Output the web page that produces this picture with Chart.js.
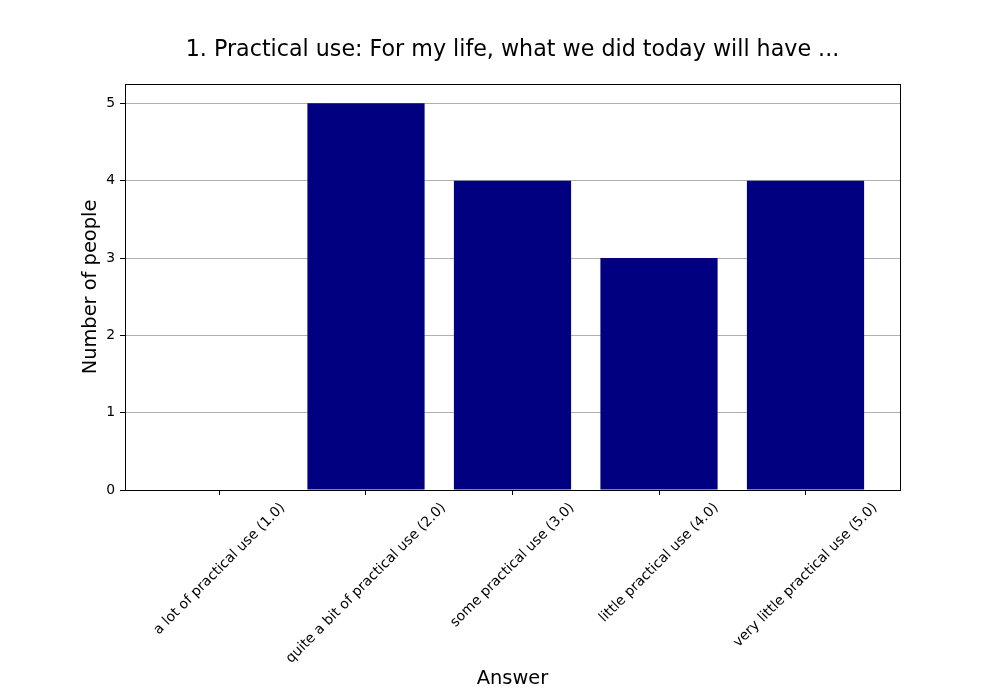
<!DOCTYPE html>
<html>
<head>
<meta charset="utf-8">
<script src="https://cdn.jsdelivr.net/npm/chart.js@4"></script>
<style>
  html, body { margin: 0; padding: 0; background: #fff; }
  #wrap { width: 1000px; height: 700px; }
</style>
</head>
<body>
<div id="wrap"><canvas id="myChart" width="1000" height="700"></canvas></div>
<script>
// chart data
const titleText = '1. Practical use: For my life, what we did today will have ...';
const answers = [
    'a lot of practical use (1.0)',
    'quite a bit of practical use (2.0)',
    'some practical use (3.0)',
    'little practical use (4.0)',
    'very little practical use (5.0)'
];
const counts = [0, 5, 4, 3, 4];
const yTicks = [0, 1, 2, 3, 4, 5];

const FONT = "'DejaVu Sans', sans-serif";

// title, frame and centered rotated tick labels (matplotlib style)
const mplExtras = {
    id: 'mplExtras',
    afterDraw(chart) {
        const ctx = chart.ctx;
        const area = chart.chartArea;
        const xScale = chart.scales.x;

        ctx.save();
        ctx.strokeStyle = '#000';
        ctx.lineWidth = 1;
        ctx.strokeRect(area.left + 0.5, area.top + 0.5, area.right - area.left, area.bottom - area.top);

        ctx.fillStyle = '#000';
        ctx.font = '22.2px ' + FONT;
        ctx.textAlign = 'center';
        ctx.textBaseline = 'middle';
        ctx.fillText(titleText, (area.left + area.right) / 2, 50);

        ctx.font = '13.9px ' + FONT;
        const s = Math.SQRT1_2;
        answers.forEach((label, i) => {
            const x = xScale.getPixelForValue(i);
            const w = ctx.measureText(label).width;
            const h = 16;
            const boxH = (w + h) * s;
            const cy = area.bottom + 10 + boxH / 2;
            ctx.save();
            ctx.translate(x, cy);
            ctx.rotate(-Math.PI / 4);
            ctx.fillText(label, 0, 0);
            ctx.restore();
        });
        ctx.restore();
    }
};

const ctx = document.getElementById('myChart').getContext('2d');

new Chart(ctx, {
    type: 'bar',
    data: {
        datasets: [{
            label: 'Number of people',
            data: counts.map((c, i) => ({ x: i, y: c })),
            backgroundColor: '#000080',
            borderWidth: 0,
            barPercentage: 0.8,
            categoryPercentage: 1.0
        }]
    },
    options: {
        responsive: false,
        animation: false,
        layout: { padding: { top: 84, right: 100, left: 0, bottom: 0 } },
        plugins: {
            legend: { display: false },
            tooltip: { enabled: false },
            title: { display: false }
        },
        scales: {
            x: {
                type: 'linear',
                offset: false,
                min: -0.645,
                max: 4.645,
                afterBuildTicks: scale => {
                    scale.ticks = answers.map((a, i) => ({ value: i }));
                },
                afterFit: scale => { scale.height = 210; },
                ticks: { display: false },
                grid: {
                    offset: false,
                    drawOnChartArea: false,
                    tickLength: 5,
                    tickColor: '#000'
                },
                border: { color: '#000', width: 1 },
                title: {
                    display: true,
                    text: 'Answer',
                    color: '#000',
                    font: { family: FONT, size: 19.4 },
                    padding: { top: 0, bottom: 9 }
                }
            },
            y: {
                min: 0,
                max: 5.25,
                afterBuildTicks: scale => {
                    scale.ticks = yTicks.map(v => ({ value: v }));
                },
                afterFit: scale => { scale.width = 125; },
                ticks: {
                    color: '#000',
                    padding: 5,
                    font: { family: FONT, size: 13.9 }
                },
                grid: {
                    color: '#b0b0b0',
                    lineWidth: 1,
                    tickLength: 5,
                    tickColor: '#000'
                },
                border: { color: '#000', width: 1 },
                title: {
                    display: true,
                    text: 'Number of people',
                    color: '#000',
                    font: { family: FONT, size: 19.4 },
                    padding: { top: 79, bottom: 0 }
                }
            }
        }
    },
    plugins: [mplExtras]
});
</script>
</body>
</html>
